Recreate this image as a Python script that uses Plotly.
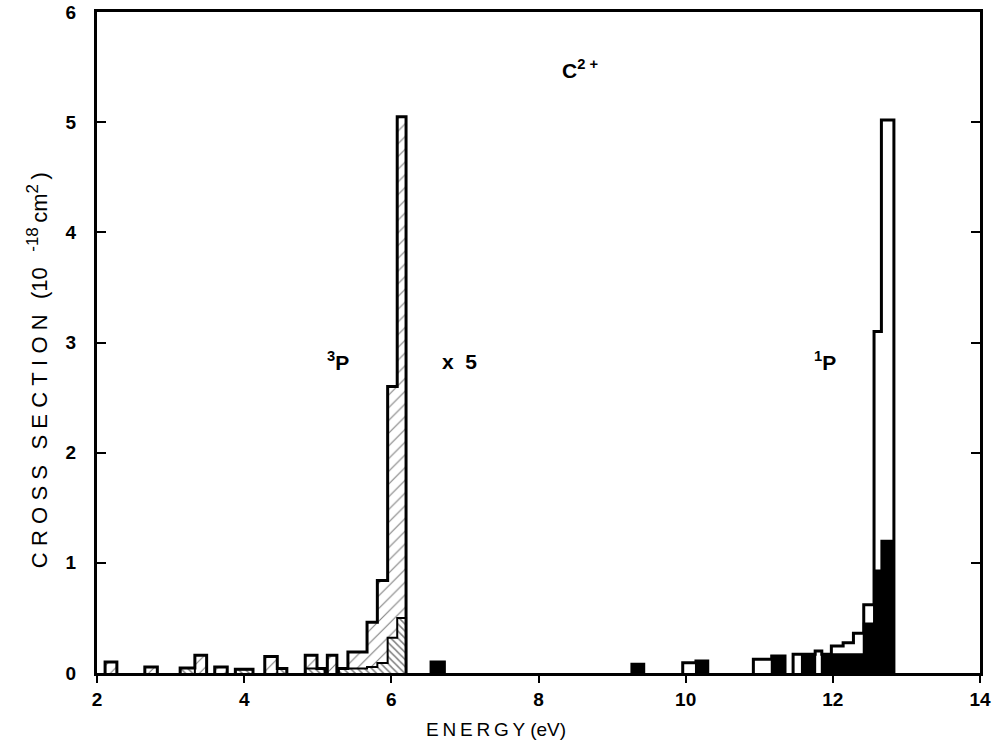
import plotly.graph_objects as go

# ---- data (energy in eV, cross section in 1e-18 cm^2) ----
# 3P region (shown x5): total (light hatch) and inner component (dense hatch)
trip_left  = [2.11, 2.65, 3.13, 3.33, 3.60, 3.88, 4.28, 4.45, 4.83, 4.99, 5.13, 5.28, 5.41, 5.67, 5.81, 5.95, 6.08]
trip_right = [2.27, 2.82, 3.33, 3.49, 3.77, 4.12, 4.45, 4.58, 4.99, 5.10, 5.26, 5.41, 5.67, 5.81, 5.95, 6.08, 6.20]
trip_total = [0.10, 0.055, 0.045, 0.16, 0.055, 0.035, 0.15, 0.04, 0.16, 0.04, 0.16, 0.04, 0.19, 0.46, 0.84, 2.60, 5.05]
trip_part  = [0.0, 0.0, 0.045, 0.0, 0.0, 0.035, 0.0, 0.04, 0.04, 0.04, 0.0, 0.04, 0.04, 0.055, 0.09, 0.32, 0.50]

# 1P region: total (open) and inner component (black)
sing_left  = [6.54, 9.27, 9.96, 10.14, 10.92, 11.17, 11.46, 11.58, 11.76, 11.85, 11.98, 12.14, 12.28, 12.42, 12.56, 12.66]
sing_right = [6.72, 9.43, 10.14, 10.30, 11.17, 11.35, 11.58, 11.76, 11.85, 11.98, 12.14, 12.28, 12.42, 12.56, 12.66, 12.83]
sing_total = [0.10, 0.08, 0.093, 0.11, 0.125, 0.155, 0.17, 0.17, 0.20, 0.17, 0.245, 0.275, 0.36, 0.62, 3.10, 5.02]
sing_part  = [0.10, 0.08, 0.0, 0.11, 0.0, 0.155, 0.0, 0.17, 0.0, 0.17, 0.17, 0.17, 0.17, 0.45, 0.93, 1.20]

x_ticks = [2, 4, 6, 8, 10, 12, 14]
y_ticks = [0, 1, 2, 3, 4, 5, 6]

FONT = "Liberation Sans, Arial, Helvetica, sans-serif"
GAP = "\u2009\u200a"   # letter spacing
THIN = "\u2009"
WGAP = "\u2002\u2009"  # word spacing


def spaced(s, gap=GAP):
    return gap.join(list(s))


def step_outline(left, right, vals):
    xs, ys = [], []
    i = 0
    n = len(left)
    while i < n:
        if vals[i] <= 0:
            i += 1
            continue
        xs += [left[i], left[i]]
        ys += [0, vals[i]]
        j = i
        while True:
            xs.append(right[j]); ys.append(vals[j])
            if j + 1 < n and abs(left[j + 1] - right[j]) < 1e-9 and vals[j + 1] > 0:
                j += 1
                xs.append(left[j]); ys.append(vals[j])
            else:
                break
        xs += [right[j], None]
        ys += [0, None]
        i = j + 1
    return xs, ys


def bar(left, right, vals, color, pattern=None):
    centers = [(a + b) / 2 for a, b in zip(left, right)]
    widths = [b - a for a, b in zip(left, right)]
    marker = dict(color=color, line=dict(width=0))
    if pattern:
        marker["pattern"] = pattern
    return go.Bar(x=centers, y=vals, width=widths, marker=marker,
                  hoverinfo="skip", showlegend=False)


fig = go.Figure()
fig.add_trace(bar(trip_left, trip_right, trip_total, "white",
                  dict(shape="/", fgcolor="black", bgcolor="white", size=9, solidity=0.12)))
fig.add_trace(bar(trip_left, trip_right, trip_part, "white",
                  dict(shape="\\", fgcolor="black", bgcolor="white", size=5, solidity=0.3)))
fig.add_trace(bar(sing_left, sing_right, sing_total, "white"))
fig.add_trace(bar(sing_left, sing_right, sing_part, "black"))

for (l, r, v, w) in [(trip_left, trip_right, trip_total, 3),
                     (trip_left, trip_right, trip_part, 2),
                     (sing_left, sing_right, sing_total, 3),
                     (sing_left, sing_right, sing_part, 2)]:
    xs, ys = step_outline(l, r, v)
    fig.add_trace(go.Scatter(x=xs, y=ys, mode="lines",
                             line=dict(color="black", width=w),
                             hoverinfo="skip", showlegend=False))

tickfont = dict(family=FONT, size=19, color="black", weight="bold")

fig.update_layout(
    width=993, height=748,
    margin=dict(l=97, r=13, t=12, b=75, autoexpand=False),
    paper_bgcolor="white", plot_bgcolor="white",
    barmode="overlay", bargap=0,
    font=dict(family=FONT, size=17, color="black"),
    showlegend=False,
)
fig.update_xaxes(
    range=[2, 14], tickvals=x_ticks, ticktext=[str(t) for t in x_ticks],
    showgrid=False, zeroline=False, automargin=False,
    showline=True, linecolor="black", linewidth=3, mirror=True,
    ticks="outside", ticklen=7, tickwidth=2, tickcolor="black",
    tickfont=tickfont,
)
fig.update_yaxes(
    range=[0, 6], tickvals=y_ticks, ticktext=[str(t) for t in y_ticks],
    showgrid=False, zeroline=False, automargin=False,
    showline=True, linecolor="black", linewidth=3, mirror="ticks",
    ticks="inside", ticklen=9, tickwidth=2, tickcolor="black",
    ticklabelstandoff=14,
    tickfont=tickfont,
)

# axis titles
fig.add_annotation(xref="paper", yref="paper", x=0.452, y=-0.085,
                   xanchor="center", yanchor="middle", showarrow=False,
                   text=spaced("ENERGY", THIN) + " (eV)",
                   font=dict(family=FONT, size=19, color="black"))
sup_style = "font-size:17px"
fig.add_annotation(xref="paper", yref="paper", x=-0.068, y=0.458,
                   xanchor="center", yanchor="middle", showarrow=False, textangle=-90,
                   text=spaced("CROSS") + WGAP + spaced("SECTION") + WGAP
                        + "(10" + WGAP
                        + "<sup><span style='" + sup_style + "'>-18</span></sup>"
                        + THIN + "cm"
                        + "<sup><span style='" + sup_style + "'>2</span></sup>" + THIN + ")",
                   font=dict(family=FONT, size=22, color="black"))

ann_font = dict(family=FONT, size=21, color="black", weight="bold")
fig.add_annotation(x=8.56, y=5.48, text="C<sup>2 +</sup>", showarrow=False, font=ann_font)
fig.add_annotation(x=5.28, y=2.83, text="<sup>3</sup>P", showarrow=False, font=ann_font)
fig.add_annotation(x=6.92, y=2.83, text="x  5", showarrow=False, font=ann_font)
fig.add_annotation(x=11.9, y=2.83, text="<sup>1</sup>P", showarrow=False, font=ann_font)

fig.write_html("out.html")
